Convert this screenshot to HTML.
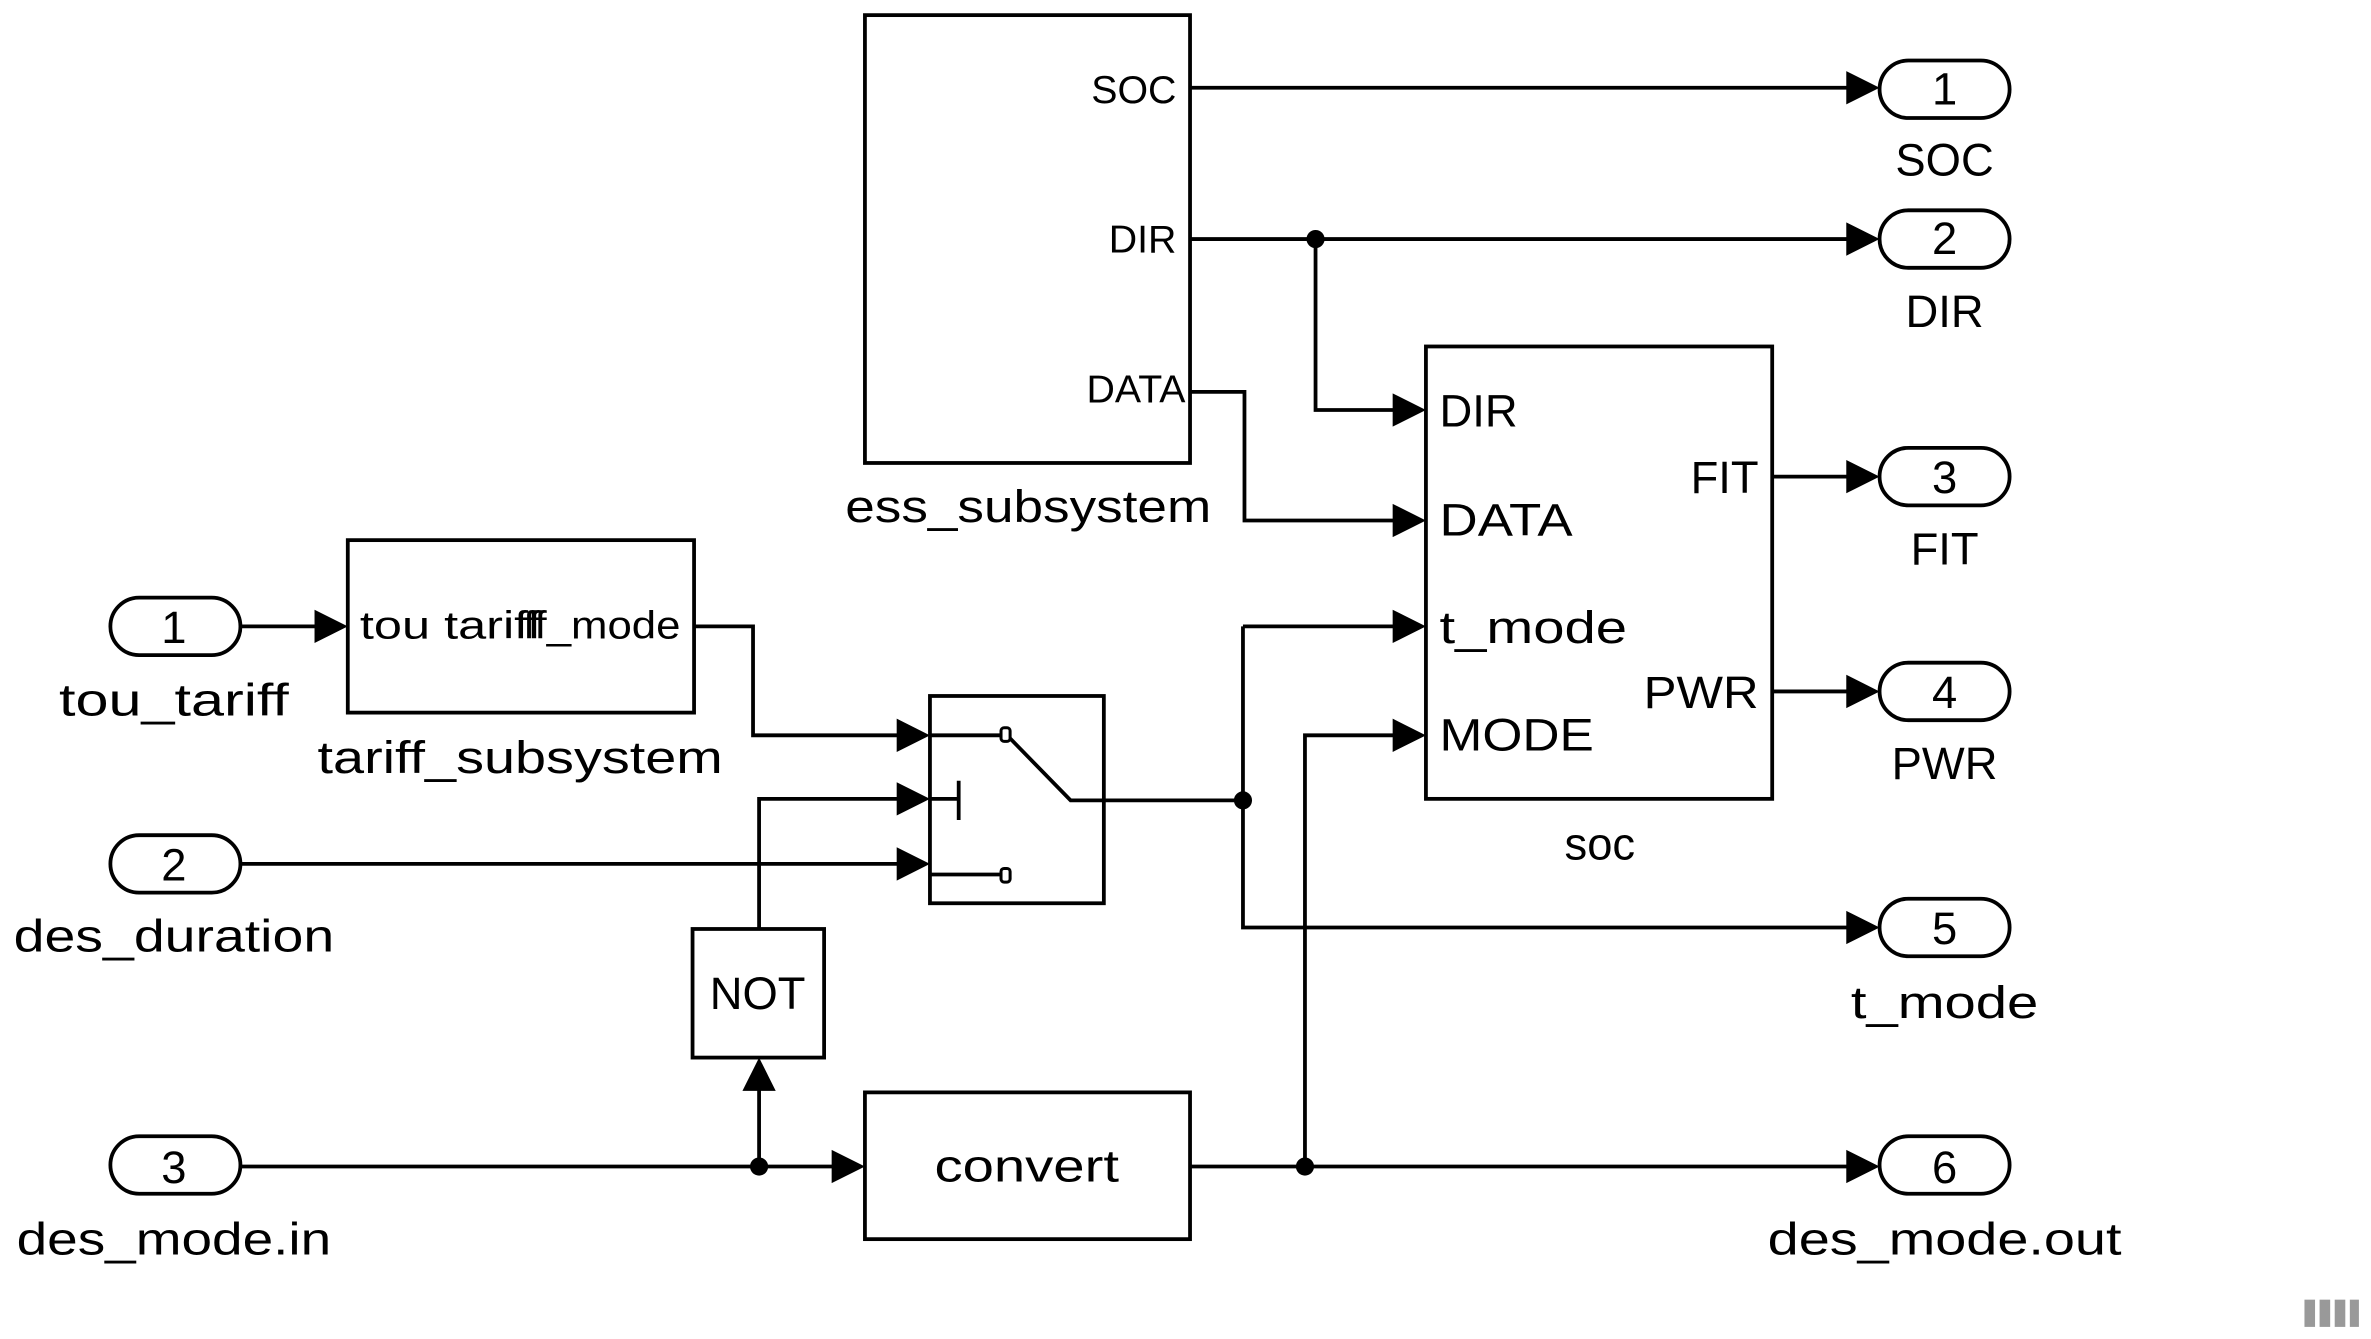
<!DOCTYPE html>
<html><head><meta charset="utf-8"><style>
html,body{margin:0;padding:0;background:#fff;}
svg{display:block;}
text{font-family:"Liberation Sans",sans-serif;fill:#000;}
</style></head><body>
<svg width="2371" height="1339" viewBox="0 0 1568 885" preserveAspectRatio="none" xmlns="http://www.w3.org/2000/svg">
<defs>
<marker id="a" markerWidth="10" markerHeight="10" refX="9" refY="5" orient="auto" markerUnits="userSpaceOnUse" viewBox="0 0 10 10">
</marker>
</defs>
<g fill="none" stroke="#000" stroke-width="2.5">
<!-- blocks -->
<rect x="572" y="10" width="215" height="296"/>
<rect x="943" y="229" width="229" height="299"/>
<rect x="230" y="357" width="229" height="114"/>
<rect x="615" y="460" width="115" height="137"/>
<rect x="458" y="614" width="87" height="85"/>
<rect x="572" y="722" width="215" height="97"/>
<!-- pills -->
<rect x="73" y="395" width="86" height="38" rx="19"/>
<rect x="73" y="552" width="86" height="38" rx="19"/>
<rect x="73" y="751" width="86" height="38" rx="19"/>
<rect x="1243" y="40" width="86" height="38" rx="19"/>
<rect x="1243" y="139" width="86" height="38" rx="19"/>
<rect x="1243" y="296" width="86" height="38" rx="19"/>
<rect x="1243" y="438" width="86" height="38" rx="19"/>
<rect x="1243" y="594" width="86" height="38" rx="19"/>
<rect x="1243" y="751" width="86" height="38" rx="19"/>
<!-- lines -->
<path d="M787 58H1225"/>
<path d="M787 158H1225"/>
<path d="M870 158V271H925"/>
<path d="M787 259H823V344H925"/>
<path d="M1172 315H1225"/>
<path d="M1172 457H1225"/>
<path d="M159 414H212"/>
<path d="M459 414H498V486H597"/>
<path d="M502 614V528H597"/>
<path d="M159 571H597"/>
<path d="M730 529H822"/>
<path d="M822 414H925"/>
<path d="M822 414V613H1225"/>
<path d="M502 771V717"/>
<path d="M159 771H554"/>
<path d="M787 771H1225"/>
<path d="M863 771V486H925"/>
<!-- switch internals -->
<path d="M615 486H662"/>
<path d="M667 487L708 529H730"/>
<path d="M615 528H634M634 516V542"/>
<path d="M615 578H662"/>
</g>
<g fill="#fff" stroke="#000" stroke-width="2">
<rect x="662" y="481" width="6" height="9" rx="2"/>
<rect x="662" y="574" width="6" height="9" rx="2"/>
</g>
<g fill="#000">
<circle cx="870" cy="158" r="6"/>
<circle cx="822" cy="529" r="6"/>
<circle cx="502" cy="771" r="6"/>
<circle cx="863" cy="771" r="6"/>
<polygon points="1221,47 1243,58 1221,69"/>
<polygon points="1221,147 1243,158 1221,169"/>
<polygon points="1221,304 1243,315 1221,326"/>
<polygon points="1221,446 1243,457 1221,468"/>
<polygon points="1221,602 1243,613 1221,624"/>
<polygon points="1221,760 1243,771 1221,782"/>
<polygon points="921,260 943,271 921,282"/>
<polygon points="921,333 943,344 921,355"/>
<polygon points="921,403 943,414 921,425"/>
<polygon points="921,475 943,486 921,497"/>
<polygon points="208,403 230,414 208,425"/>
<polygon points="593,475 615,486 593,497"/>
<polygon points="593,517 615,528 593,539"/>
<polygon points="593,560 615,571 593,582"/>
<polygon points="550,760 572,771 550,782"/>
<polygon points="491,721 502,699 513,721"/>
<rect x="1524" y="859" width="7" height="18" fill="#999"/>
<rect x="1534" y="859" width="7" height="18" fill="#999"/>
<rect x="1544" y="859" width="7" height="18" fill="#999"/>
<rect x="1554" y="859" width="6" height="18" fill="#999"/>
</g>
<g font-size="30" text-anchor="middle">
<text x="1286" y="69">1</text>
<text x="1286" y="168">2</text>
<text x="1286" y="326">3</text>
<text x="1286" y="468">4</text>
<text x="1286" y="624">5</text>
<text x="1286" y="782">6</text>
<text x="115" y="425">1</text>
<text x="115" y="582">2</text>
<text x="115" y="782">3</text>
</g>
<g font-size="30" text-anchor="middle">
<text x="1286" y="116">SOC</text>
<text x="1286" y="216">DIR</text>
<text x="1286" y="373">FIT</text>
<text x="1286" y="515">PWR</text>
<text x="1286" y="673" textLength="124" lengthAdjust="spacingAndGlyphs">t_mode</text>
<text x="1286" y="829" textLength="234" lengthAdjust="spacingAndGlyphs">des_mode.out</text>
<text x="115" y="473" textLength="152" lengthAdjust="spacingAndGlyphs">tou_tariff</text>
<text x="115" y="629" textLength="212" lengthAdjust="spacingAndGlyphs">des_duration</text>
<text x="115" y="829" textLength="208" lengthAdjust="spacingAndGlyphs">des_mode.in</text>
<text x="680" y="345" textLength="242" lengthAdjust="spacingAndGlyphs">ess_subsystem</text>
<text x="344" y="511" textLength="268" lengthAdjust="spacingAndGlyphs">tariff_subsystem</text>
<text x="1058" y="568">soc</text>
<text x="501" y="667">NOT</text>
<text x="679" y="781" textLength="122" lengthAdjust="spacingAndGlyphs">convert</text>
</g>
<g font-size="26">
<text x="778" y="68" text-anchor="end">SOC</text>
<text x="778" y="167" text-anchor="end">DIR</text>
<text x="784" y="266" text-anchor="end">DATA</text>
<text x="238" y="422" textLength="120" lengthAdjust="spacingAndGlyphs">tou tariff</text>
<text x="450" y="422" text-anchor="end" textLength="104" lengthAdjust="spacingAndGlyphs">ff_mode</text>
</g>
<g font-size="30">
<text x="952" y="282">DIR</text>
<text x="952" y="354" textLength="88" lengthAdjust="spacingAndGlyphs">DATA</text>
<text x="952" y="425" textLength="124" lengthAdjust="spacingAndGlyphs">t_mode</text>
<text x="952" y="496" textLength="102" lengthAdjust="spacingAndGlyphs">MODE</text>
<text x="1163" y="326" text-anchor="end">FIT</text>
<text x="1163" y="468" text-anchor="end" textLength="76" lengthAdjust="spacingAndGlyphs">PWR</text>
</g>
</svg>
</body></html>
